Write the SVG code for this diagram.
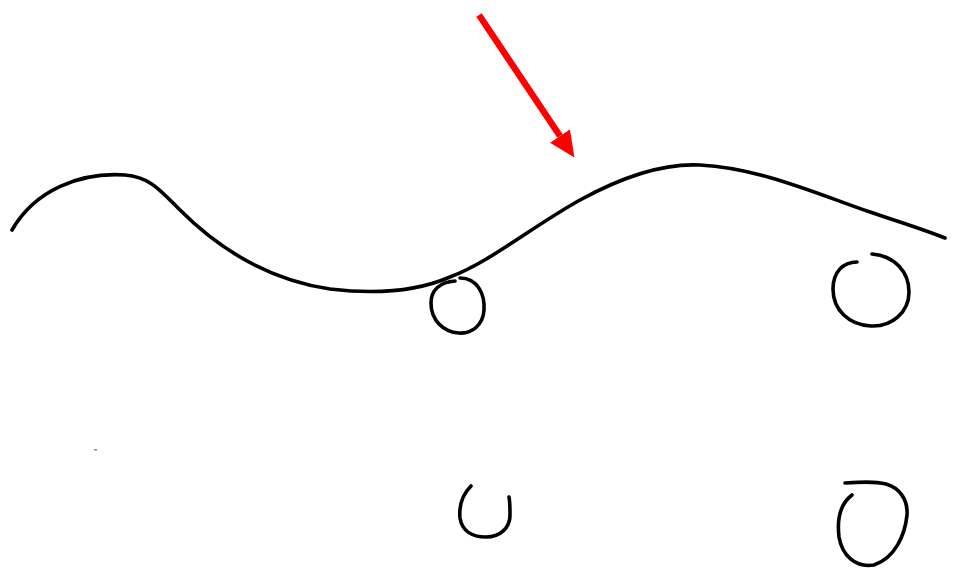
<svg xmlns="http://www.w3.org/2000/svg" width="953" height="585" viewBox="0 0 953 585">
<style>
.ink{fill:none;stroke:#000;stroke-width:3.6;stroke-linecap:round;stroke-linejoin:round}
.red{fill:none;stroke:#ff0000;stroke-width:6.5;stroke-linecap:butt}
</style>
<defs>
<marker id="ah" markerUnits="userSpaceOnUse" markerWidth="26" markerHeight="24" refX="0" refY="12" orient="auto">
<path d="M0,0 L26,12 L0,24 z" fill="#ff0000"/>
</marker>
</defs>
<rect width="953" height="585" fill="#fff"/>
<g id="wave">
<path class="ink" d="M12,230 C35,190 80,172 125,175 C150,177 160,190 180,210 C220,250 270,280 330,289 C380,295 420,290 450,277 C490,262 530,228 580,200 C620,178 660,163 700,165 C760,168 820,195 870,212 C890,219 920,228 945,238"/>
</g>
<g id="arrow">
<line class="red" x1="479" y1="15" x2="560" y2="136" marker-end="url(#ah)"/>
</g>
<g id="loop1">
<path class="ink" d="M460,278 C478,278 485,295 484,310 C483,325 472,334 459,333 C443,332 431,320 431,303 C431,290 440,282 455,281"/>
</g>
<g id="loop2">
<path class="ink" d="M872,254 C895,256 909,272 909,292 C909,312 892,327 871,326 C849,325 833,310 833,289 C833,272 843,262 857,262"/>
</g>
<g id="loop3">
<path class="ink" d="M471,486 C462,495 459,507 460,518 C462,531 472,537 486,537 C500,537 510,528 510,515 C510,507 510,502 509,497"/>
</g>
<g id="loop4">
<path class="ink" d="M845,483 C860,482 874,481 886,484 C900,488 908,500 907,515 C905,535 895,558 874,565 C855,568 842,555 839,537 C837,520 840,504 852,495"/>
</g>
<rect x="94" y="449" width="3" height="1.5" fill="#888"/>
</svg>
